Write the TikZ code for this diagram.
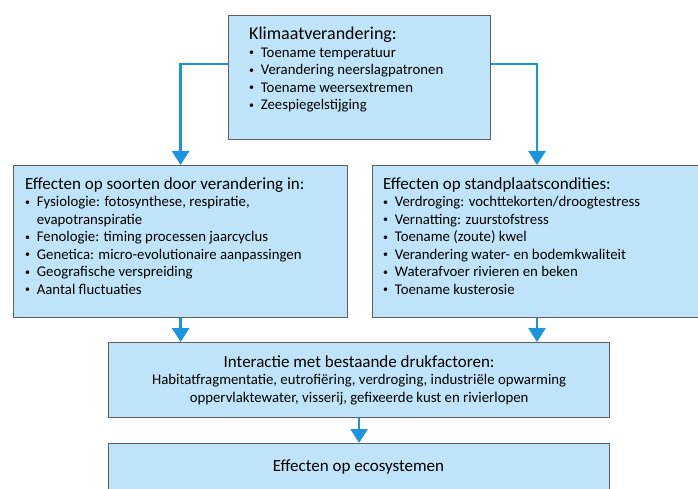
\documentclass[tikz,border=0pt]{standalone}
\usepackage{fontspec}
\setmainfont{Carlito}
\usetikzlibrary{arrows.meta}

\definecolor{vakblauw}{RGB}{191,228,249}
\definecolor{pijlblauw}{RGB}{27,150,222}
\definecolor{randgrijs}{RGB}{95,95,95}

\tikzset{
  vak/.style={draw=randgrijs, line width=1.2pt, fill=vakblauw, inner sep=0pt, anchor=north west},
  pijl/.style={draw=pijlblauw, line width=2.6pt, -{Triangle[width=17pt,length=14pt]}},
}
\newcommand{\kop}[1]{{\fontsize{17}{19}\selectfont #1}}
\newcommand{\pt}{\raisebox{1.2pt}{\fontsize{10}{10}\selectfont\textbullet}\hspace{0.45em}}

\begin{document}
\begin{tikzpicture}[x=1pt,y=-1pt,font=\fontsize{14.8}{17.5}\selectfont]
  \clip (0,0) rectangle (698,489);
  \fill[white] (0,0) rectangle (698,489);

  % vakken
  \node[vak, minimum width=262pt, minimum height=124pt] (klimaat) at (228,15) {};
  \node[anchor=north west, align=left, inner sep=0pt] (klimaattekst) at (249,27)
    {{\fontsize{18}{19}\selectfont Klimaatverandering:}\\
     \pt Toename temperatuur\\
     \pt Verandering neerslagpatronen\\
     \pt Toename weersextremen\\
     \pt Zeespiegelstijging};

  \node[vak, minimum width=334pt, minimum height=152pt] (soorten) at (13,165) {};
  \node[anchor=north west, align=left, inner sep=0pt] (soortentekst) at (25,177)
    {\kop{Effecten op soorten door verandering in:}\\
     \pt Fysiologie: fotosynthese, respiratie,\\
     \phantom{\pt}evapotranspiratie\\
     \pt Fenologie: timing processen jaarcyclus\\
     \pt Genetica: micro-evolutionaire aanpassingen\\
     \pt Geografische verspreiding\\
     \pt Aantal fluctuaties};

  \node[vak, minimum width=334pt, minimum height=152pt] (standplaats) at (372,165) {};
  \node[anchor=north west, align=left, inner sep=0pt] (standplaatstekst) at (383,177)
    {\kop{Effecten op standplaatscondities:}\\
     \pt Verdroging: vochttekorten/droogtestress\\
     \pt Vernatting: zuurstofstress\\
     \pt Toename (zoute) kwel\\
     \pt Verandering water- en bodemkwaliteit\\
     \pt Waterafvoer rivieren en beken\\
     \pt Toename kusterosie};

  \node[vak, minimum width=501pt, minimum height=75pt] (interactie) at (108,342) {};
  \node[align=center, inner sep=0pt] (interactietekst) at (interactie.center)
    {\kop{Interactie met bestaande drukfactoren:}\\
     Habitatfragmentatie, eutrofiëring, verdroging, industriële opwarming\\
     oppervlaktewater, visserij, gefixeerde kust en rivierlopen};

  \node[vak, minimum width=501pt, minimum height=60pt] (ecosys) at (108,443) {};
  \node[inner sep=0pt] (ecosystekst) at (358.5,467) {\kop{Effecten op ecosystemen}};

  % pijlen
  \draw[pijl] (klimaat.west |- 0,64) -| (soorten.north);
  \draw[pijl] (klimaat.east |- 0,64) -| (standplaats.north -| 537,0);
  \draw[pijl] (soorten.south) -- (soorten.south |- interactie.north);
  \draw[pijl] (standplaats.south -| 537,0) -- (interactie.north -| 537,0);
  \draw[pijl] (interactie.south) -- (ecosys.north);
\end{tikzpicture}
\end{document}
